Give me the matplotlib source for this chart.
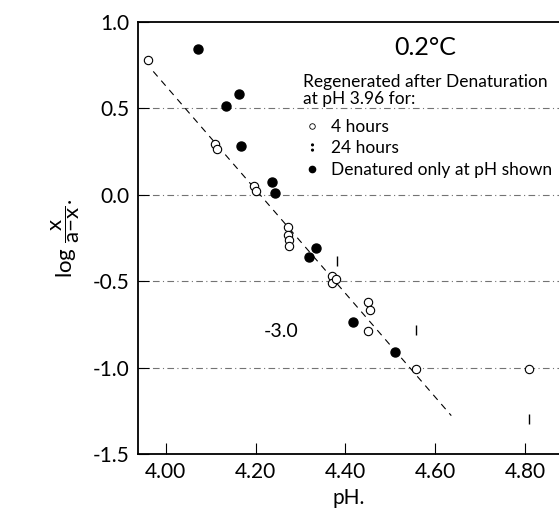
import numpy as np
import matplotlib
matplotlib.use("Agg")
import matplotlib.pyplot as plt
from matplotlib.lines import Line2D

# regenerated after denaturation at pH 3.96 for 4 hours
ph_4h = [3.96, 4.11, 4.115, 4.197, 4.20, 4.272, 4.272, 4.275, 4.275,
         4.37, 4.37, 4.38, 4.45, 4.455, 4.45, 4.557, 4.81]
logr_4h = [0.78, 0.295, 0.265, 0.05, 0.02, -0.185, -0.23, -0.26, -0.295,
           -0.47, -0.51, -0.49, -0.62, -0.665, -0.79, -1.01, -1.01]

# regenerated for 24 hours
ph_24h = [4.381, 4.557, 4.81]
logr_24h = [-0.385, -0.78, -1.30]

# denatured only at the pH shown
ph_only = [4.072, 4.133, 4.164, 4.167, 4.236, 4.244, 4.318, 4.335, 4.417, 4.511]
logr_only = [0.842, 0.514, 0.582, 0.282, 0.075, 0.013, -0.36, -0.31, -0.738, -0.909]

# fitted line, slope -3.0
slope = -3.0
ph_zero = 4.21
fit_ph = [3.972, 4.636]

xticks = [4.00, 4.20, 4.40, 4.60, 4.80]
yticks = [1.0, 0.5, 0.0, -0.5, -1.0, -1.5]
grid_y = [0.5, 0.0, -0.5, -1.0]

plt.rcParams['font.family'] = ['Lato', 'DejaVu Sans']
plt.rcParams['axes.unicode_minus'] = False
plt.rcParams['mathtext.fontset'] = 'custom'
plt.rcParams['mathtext.rm'] = 'Lato'
plt.rcParams['mathtext.it'] = 'Lato'

fig = plt.figure(figsize=(5.59, 5.24), dpi=100)
ax = fig.add_axes([138 / 559, 70 / 524, 421 / 559, 432 / 524])

for gy in grid_y:
    ax.axhline(gy, color='0.45', lw=0.8, ls=(0, (6, 3, 1, 3)), zorder=0)

fx = np.array(fit_ph)
ax.plot(fx, slope * (fx - ph_zero), color='k', lw=0.8, ls=(0, (6, 5)), zorder=1)

ax.plot(ph_4h, logr_4h, ls='none', marker='o', ms=6, mfc='white', mec='k',
        mew=0.8, zorder=3)
ax.plot(ph_24h, logr_24h, ls='none', marker='|', ms=7, mew=1.0, color='k',
        zorder=3)
ax.plot(ph_only, logr_only, ls='none', marker='o', ms=6.5, color='k', zorder=3)

ax.set_xlim(3.938, 4.876)
ax.set_ylim(-1.5, 1.0)
ax.set_xticks(xticks)
ax.set_xticklabels([f"{v:.2f}" for v in xticks])
ax.set_yticks(yticks)
ax.set_yticklabels([f"{v:.1f}" for v in yticks])
ax.tick_params(direction='in', length=8, width=0.8, labelsize=15, pad=6)
ax.spines['right'].set_visible(False)
for s in ['left', 'bottom', 'top']:
    ax.spines[s].set_linewidth(1.3)

ax.set_xlabel('pH.', fontsize=15, labelpad=4)
ax.set_ylabel(r'$\log\,\dfrac{x}{a\mathrm{-}x}$.', fontsize=16, labelpad=8)

ax.text(4.258, -0.79, '-3.0', fontsize=14, ha='center', va='center')
ax.text(0.682, 0.94, '0.2°C', transform=ax.transAxes, fontsize=18,
        ha='center', va='center')
ax.text(0.392, 0.841, 'Regenerated after Denaturation\nat pH 3.96 for:',
        transform=ax.transAxes, fontsize=12.5, ha='left', va='center',
        linespacing=1.12)

handles = [
    Line2D([], [], ls='none', marker='o', ms=4, mfc='white', mec='k', mew=0.6),
    Line2D([], [], ls='none', marker=r'$:$', ms=5, color='k'),
    Line2D([], [], ls='none', marker='o', ms=4.5, color='k'),
]
labels = ['4 hours', '24 hours', 'Denatured only at pH shown']
leg = ax.legend(handles, labels, loc='upper left', bbox_to_anchor=(0.392, 0.775),
                fontsize=12.5, frameon=False, borderpad=0, borderaxespad=0,
                handlelength=1.0, handletextpad=0.6, labelspacing=0.3)

fig.savefig('out.png', dpi=100)
